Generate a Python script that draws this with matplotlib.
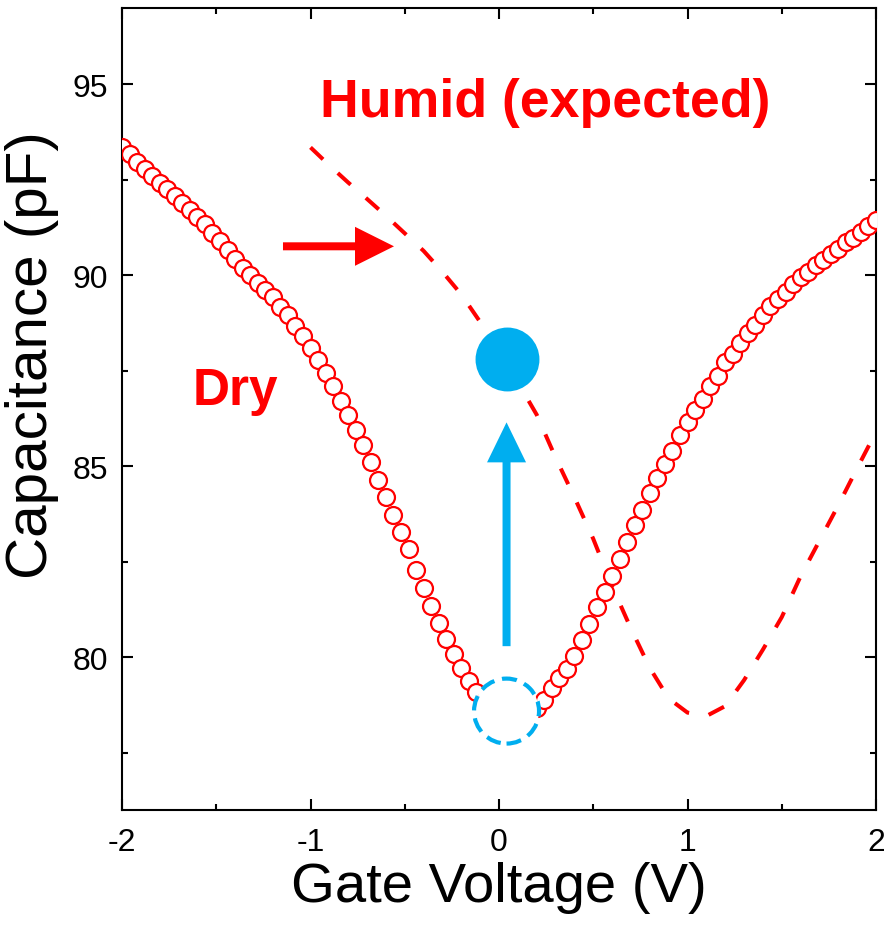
import numpy as np
import matplotlib
matplotlib.use("Agg")
import matplotlib.pyplot as plt
from matplotlib.patches import Ellipse
from matplotlib.ticker import MultipleLocator

# ---- data ----
dry_v = [-2.00, -1.96, -1.92, -1.88, -1.84, -1.80, -1.76, -1.72, -1.68, -1.64,
         -1.60, -1.56, -1.52, -1.48, -1.44, -1.40, -1.36, -1.32, -1.28, -1.24,
         -1.20, -1.16, -1.12, -1.08, -1.04, -1.00, -0.96, -0.92, -0.88, -0.84,
         -0.80, -0.76, -0.72, -0.68, -0.64, -0.60, -0.56, -0.52, -0.48, -0.44,
         -0.40, -0.36, -0.32, -0.28, -0.24, -0.20, -0.16, -0.12, -0.08, -0.04,
         0.00, 0.04, 0.08, 0.12, 0.16, 0.20, 0.24, 0.28, 0.32, 0.36,
         0.40, 0.44, 0.48, 0.52, 0.56, 0.60, 0.64, 0.68, 0.72, 0.76,
         0.80, 0.84, 0.88, 0.92, 0.96, 1.00, 1.04, 1.08, 1.12, 1.16,
         1.20, 1.24, 1.28, 1.32, 1.36, 1.40, 1.44, 1.48, 1.52, 1.56,
         1.60, 1.64, 1.68, 1.72, 1.76, 1.80, 1.84, 1.88, 1.92, 1.96, 2.00]
dry_c = [93.35, 93.17, 92.98, 92.79, 92.61, 92.43, 92.26, 92.08, 91.90, 91.72,
         91.54, 91.34, 91.12, 90.89, 90.66, 90.42, 90.20, 90.00, 89.80, 89.62,
         89.42, 89.18, 88.95, 88.68, 88.40, 88.10, 87.77, 87.44, 87.09, 86.72,
         86.34, 85.94, 85.55, 85.10, 84.63, 84.19, 83.72, 83.27, 82.84, 82.28,
         81.81, 81.34, 80.89, 80.47, 80.08, 79.71, 79.37, 79.08, 78.82, 78.64,
         78.52, 78.46, 78.44, 78.48, 78.56, 78.68, 78.88, 79.20, 79.45, 79.69,
         80.02, 80.45, 80.88, 81.31, 81.72, 82.14, 82.58, 83.02, 83.46, 83.86,
         84.30, 84.70, 85.07, 85.41, 85.82, 86.16, 86.48, 86.77, 87.10, 87.37,
         87.72, 87.95, 88.22, 88.48, 88.70, 88.95, 89.19, 89.39, 89.57, 89.77,
         89.95, 90.10, 90.27, 90.41, 90.56, 90.69, 90.86, 90.98, 91.14, 91.30, 91.45]

humid_v = [-1.0, -0.9, -0.8, -0.7, -0.6, -0.5, -0.4, -0.3, -0.2, -0.1,
           0.0, 0.1, 0.2, 0.3, 0.4, 0.5, 0.6, 0.7, 0.8, 0.9,
           1.0, 1.1, 1.2, 1.3, 1.4, 1.5, 1.6, 1.7, 1.8, 1.9, 2.0]
humid_c = [93.35, 92.88, 92.43, 92.00, 91.56, 91.10, 90.64, 90.09, 89.50, 88.78,
           88.10, 87.20, 86.35, 85.23, 84.19, 83.10, 81.86, 80.75, 79.72, 78.92,
           78.55, 78.46, 78.72, 79.40, 80.20, 81.05, 82.12, 83.05, 83.98, 84.95, 85.90]

dirac_dry = (0.04, 78.59)
dirac_humid = (0.04, 87.80)
red_arrow = (-1.146, -0.557, 90.76)     # x start, x end, y
blue_arrow = (0.04, 80.29, 86.15)       # x, y start, y end

label_humid = "Humid (expected)"
label_dry = "Dry"
xlabel = "Gate Voltage (V)"
ylabel = "Capacitance (pF)"
xticks = [-2, -1, 0, 1, 2]
yticks = [80, 85, 90, 95]

RED = "#FF0000"
BLUE = "#00AEEF"

plt.rcParams['font.family'] = ['Liberation Sans', 'DejaVu Sans']

fig = plt.figure(figsize=(8.84, 9.29), dpi=100)
ax = fig.add_axes([122/884, 118/929, (876-122)/884, (811-9)/929])

ax.set_xlim(-2, 2)
ax.set_ylim(76, 97)

# humid dashed curve
ax.plot(humid_v, humid_c, color=RED, lw=2.9, dashes=(4.3, 5.0), zorder=2)

# dry open circles
ax.plot(dry_v, dry_c, 'o', ms=12.2, mfc='white', mec=RED, mew=1.6, zorder=3)

# dashed white circle (dry Dirac point)
e = Ellipse(dirac_dry, width=65/188.5, height=65/38.2, facecolor='white',
            edgecolor=BLUE, lw=3.0, linestyle=(0, (3.6, 1.9)), zorder=4)
ax.add_patch(e)

# filled blue circle
ax.plot([dirac_humid[0]], [dirac_humid[1]], 'o', ms=46, color=BLUE, mec='none', zorder=5)

# red arrow
ax.arrow(red_arrow[0], red_arrow[2], red_arrow[1]-red_arrow[0], 0,
         width=8/38.2, head_width=39/38.2, head_length=39/188.5,
         length_includes_head=True, color=RED, lw=0, zorder=5)

# blue arrow
ax.arrow(blue_arrow[0], blue_arrow[1], 0, blue_arrow[2]-blue_arrow[1],
         width=8/188.5, head_width=39/188.5, head_length=40/38.2,
         length_includes_head=True, color=BLUE, lw=0, zorder=5)

ax.text(-0.95, 94.16, label_humid, color=RED, fontsize=38.6, fontweight='bold',
        ha='left', va='baseline')
ax.text(-1.625, 86.62, label_dry, color=RED, fontsize=37, fontweight='bold',
        ha='left', va='baseline')

ax.set_xticks(xticks)
ax.set_xticklabels([str(t) for t in xticks])
ax.set_yticks(yticks)
ax.xaxis.set_minor_locator(MultipleLocator(0.5))
ax.yaxis.set_minor_locator(MultipleLocator(2.5))
ax.tick_params(which='both', direction='in', top=True, right=True, width=1.5)
ax.tick_params(which='major', length=8, labelsize=23)
ax.tick_params(axis='y', which='major', pad=10)
ax.tick_params(axis='x', which='major', pad=12)
ax.tick_params(which='minor', length=4)
for s in ax.spines.values():
    s.set_linewidth(1.5)

ax.set_xlabel(xlabel, fontsize=40.5)
ax.set_ylabel(ylabel, fontsize=42)
ax.yaxis.set_label_coords(-0.083, 0.568)
ax.xaxis.set_label_coords(0.5, -0.064)

fig.savefig("out.png", dpi=100)
